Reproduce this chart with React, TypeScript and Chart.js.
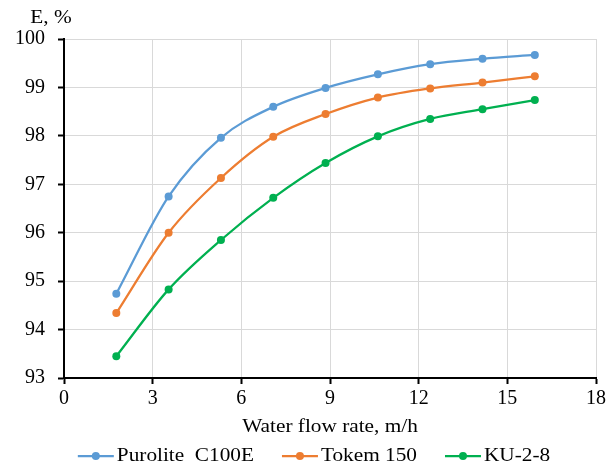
import React, { useEffect, useRef } from 'react';
import { Chart, registerables } from 'chart.js';

Chart.register(...registerables);

const flowRate = [1.77, 3.54, 5.31, 7.08, 8.85, 10.62, 12.39, 14.16, 15.93];
const purolite = [94.74, 96.75, 97.96, 98.6, 98.99, 99.27, 99.48, 99.59, 99.67];
const tokem = [94.34, 96.0, 97.13, 97.98, 98.45, 98.79, 98.98, 99.1, 99.23];
const ku28 = [93.45, 94.83, 95.85, 96.72, 97.44, 97.99, 98.35, 98.55, 98.74];
const seriesNames = ['Purolite  C100E', 'Tokem 150', 'KU-2-8'];
const seriesColors = ['#5B9BD5', '#ED7D31', '#00B050'];
const xTickValues = [0, 3, 6, 9, 12, 15, 18];
const yTickValues = [93, 94, 95, 96, 97, 98, 99, 100];
const xTitle = 'Water flow rate, m/h';
const yTitle = 'E, %';

const FONT_FAMILY = '"Liberation Serif", "Times New Roman", serif';
const STRETCH = 1.12;

function drawStretched(ctx: CanvasRenderingContext2D, text: string, x: number, y: number, align: 'left' | 'center') {
  const w = ctx.measureText(text).width * STRETCH;
  const startX = align === 'center' ? x - w / 2 : x;
  ctx.save();
  ctx.translate(startX, y);
  ctx.scale(STRETCH, 1);
  ctx.textAlign = 'left';
  ctx.fillText(text, 0, 0);
  ctx.restore();
  return w;
}

const annotations = {
  id: 'annotations',
  afterDraw(chart: any) {
    const ctx: CanvasRenderingContext2D = chart.ctx;
    const area = chart.chartArea;
    ctx.save();
    ctx.fillStyle = '#000';
    ctx.textBaseline = 'middle';
    ctx.font = `19px ${FONT_FAMILY}`;
    drawStretched(ctx, yTitle, 51, 18, 'center');
    drawStretched(ctx, xTitle, (area.left + area.right) / 2, 427, 'center');

    // legend
    const lineLen = 36;
    const gapText = 3;
    const gapItem = 28;
    const widths = seriesNames.map((n) => ctx.measureText(n).width * STRETCH);
    const total = widths.reduce((a, b) => a + b, 0) + seriesNames.length * (lineLen + gapText) + gapItem * (seriesNames.length - 1);
    let x = 314 - total / 2;
    const ly = 456;
    seriesNames.forEach((name, i) => {
      ctx.strokeStyle = seriesColors[i];
      ctx.lineWidth = 2.25;
      ctx.beginPath();
      ctx.moveTo(x, ly);
      ctx.lineTo(x + lineLen, ly);
      ctx.stroke();
      ctx.fillStyle = seriesColors[i];
      ctx.beginPath();
      ctx.arc(x + lineLen / 2, ly, 4, 0, Math.PI * 2);
      ctx.fill();
      ctx.fillStyle = '#000';
      drawStretched(ctx, name, x + lineLen + gapText, ly, 'left');
      x += lineLen + gapText + widths[i] + gapItem;
    });
    ctx.restore();
  },
};

export default function App() {
  const canvasRef = useRef<HTMLCanvasElement | null>(null);

  useEffect(() => {
    if (!canvasRef.current) return;
    const series = [purolite, tokem, ku28];
    const chart = new Chart(canvasRef.current, {
      type: 'line',
      data: {
        datasets: series.map((vals, i) => ({
          label: seriesNames[i],
          data: vals.map((v, j) => ({ x: flowRate[j], y: v })),
          borderColor: seriesColors[i],
          backgroundColor: seriesColors[i],
          pointBackgroundColor: seriesColors[i],
          pointBorderWidth: 0,
          pointRadius: 4,
          borderWidth: 2.25,
          cubicInterpolationMode: 'monotone' as const,
          fill: false,
        })),
      },
      options: {
        responsive: false,
        animation: false,
        layout: { padding: { left: 0, right: 20, top: 39, bottom: 0 } },
        plugins: {
          legend: { display: false },
          tooltip: { enabled: false },
        },
        scales: {
          x: {
            type: 'linear',
            min: 0,
            max: 18,
            afterBuildTicks: (scale: any) => {
              scale.ticks = xTickValues.map((v) => ({ value: v }));
            },
            afterFit: (scale: any) => {
              scale.height = 88;
            },
            grid: { color: '#d9d9d9', lineWidth: 1, tickColor: '#000', tickLength: 6, tickWidth: 2 },
            border: { display: true, color: '#000', width: 2 },
            ticks: { color: '#000', font: { family: FONT_FAMILY, size: 20 }, padding: 3, maxRotation: 0 },
          },
          y: {
            type: 'linear',
            min: 93,
            max: 100,
            afterBuildTicks: (scale: any) => {
              scale.ticks = yTickValues.map((v) => ({ value: v }));
            },
            afterFit: (scale: any) => {
              scale.width = 64;
            },
            grid: { color: '#d9d9d9', lineWidth: 1, tickColor: '#000', tickLength: 6, tickWidth: 2 },
            border: { display: true, color: '#000', width: 2 },
            ticks: { color: '#000', font: { family: FONT_FAMILY, size: 20 }, padding: 13 },
          },
        },
      },
      plugins: [annotations],
    });
    return () => chart.destroy();
  }, []);

  return (
    <div style={{ position: 'absolute', left: 0, top: 0, width: 616, height: 466, background: '#fff' }}>
      <canvas ref={canvasRef} width={616} height={466} />
    </div>
  );
}
